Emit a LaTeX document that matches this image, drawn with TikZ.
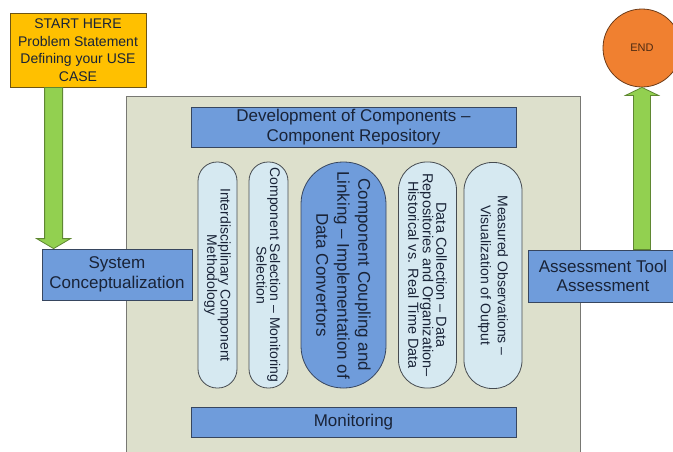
\documentclass[tikz,border=0pt]{standalone}
\usepackage{fontspec}
\setmainfont{Liberation Sans}
\usetikzlibrary{calc,positioning}
\definecolor{startor}{RGB}{255,192,0}
\definecolor{startline}{RGB}{110,85,20}
\definecolor{boxblue}{RGB}{111,156,219}
\definecolor{boxline}{RGB}{55,70,95}
\definecolor{pillblue}{RGB}{214,233,241}
\definecolor{pillline}{RGB}{70,75,80}
\definecolor{panel}{RGB}{221,224,204}
\definecolor{panelline}{RGB}{120,120,115}
\definecolor{green1}{RGB}{146,208,80}
\definecolor{greenline}{RGB}{95,135,50}
\definecolor{endor}{RGB}{240,128,48}
\definecolor{endline}{RGB}{110,60,25}
\definecolor{txt}{RGB}{25,35,55}

\begin{document}
\begin{tikzpicture}[x=1pt,y=-1pt,
  box/.style={draw=boxline,fill=boxblue,text=txt,align=center,inner sep=1pt,line width=0.8pt,font=\fontsize{17}{19.5}\selectfont},
  pill/.style={draw=pillline,fill=pillblue,text=txt,align=center,rounded corners=19pt,minimum width=226pt,minimum height=39pt,rotate=-90,inner sep=1pt,line width=0.8pt,font=\fontsize{14}{13.5}\selectfont},
  garrow/.style={draw=greenline,fill=green1,line width=0.8pt}]
\useasboundingbox (0,0) rectangle (673,451);
\clip (0,0) rectangle (673,451);
% panel
\filldraw[fill=panel,draw=panelline,line width=0.8pt](126,96) rectangle (580,470);
% start and end
\node[box,fill=startor,draw=startline,minimum width=136pt,minimum height=74pt,font=\fontsize{14}{17.5}\selectfont](start) at(78,50){START HERE\\Problem Statement\\Defining your USE\\CASE};
\node[circle,draw=endline,fill=endor,minimum size=78pt,inner sep=0pt,text=endline!70!black,line width=0.8pt,font=\fontsize{11}{12}\selectfont](stop) at(642,48){END};
\node[box,minimum width=150pt,minimum height=51pt](sys) at(117,274.5){System\\Conceptualization};
\node[box,minimum width=150pt,minimum height=52pt](assess) at(603,276){Assessment Tool\\Assessment};
% arrows
\coordinate(dtop) at([xshift=44pt]start.south west);
\coordinate(dtip) at(dtop |- sys.north);
\filldraw[garrow]($(dtop)+(-9,0)$)--($(dtip)+(-9,-10)$)--($(dtip)+(-17,-10)$)--(dtip)
  --($(dtip)+(17,-10)$)--($(dtip)+(9,-10)$)--($(dtop)+(9,0)$)--cycle;
\coordinate(utip) at(stop.south);
\coordinate(ubot) at(utip |- assess.north);
\filldraw[garrow]($(ubot)+(-8.5,0)$)--($(utip)+(-8.5,8)$)--($(utip)+(-16.5,8)$)--(utip)
  --($(utip)+(16.5,8)$)--($(utip)+(8.5,8)$)--($(ubot)+(8.5,0)$)--cycle;
% inner boxes
\node[box,minimum width=325pt,minimum height=40pt](dev) at(353.5,127){Development of Components --\\Component Repository};
\node[box,minimum width=325pt,minimum height=30pt](mon) at(353.5,422){Monitoring};
\node[pill](interd) at(217.5,275){Interdisciplinary Component\\Methodology};
\node[pill](compsel) at(268.5,275){Component Selection -- Monitoring\\Selection};
\node[pill,fill=boxblue,draw=boxline,minimum height=85pt,rounded corners=42pt,font=\fontsize{17}{21}\selectfont](coupl) at(343.5,275){Component Coupling and\\Linking -- Implementation of\\Data Convertors};
\node[pill,minimum height=58pt,rounded corners=28pt,font=\fontsize{14.5}{13.5}\selectfont](datacol) at(427.5,275){Data Collection -- Data\\Repositories and Organization--\\Historical vs. Real Time Data};
\node[pill,minimum height=58pt,rounded corners=28pt,font=\fontsize{14}{17}\selectfont](measobs) at(493,275.5){Measured Observations --\\Visualization of Output};
\end{tikzpicture}
\end{document}
